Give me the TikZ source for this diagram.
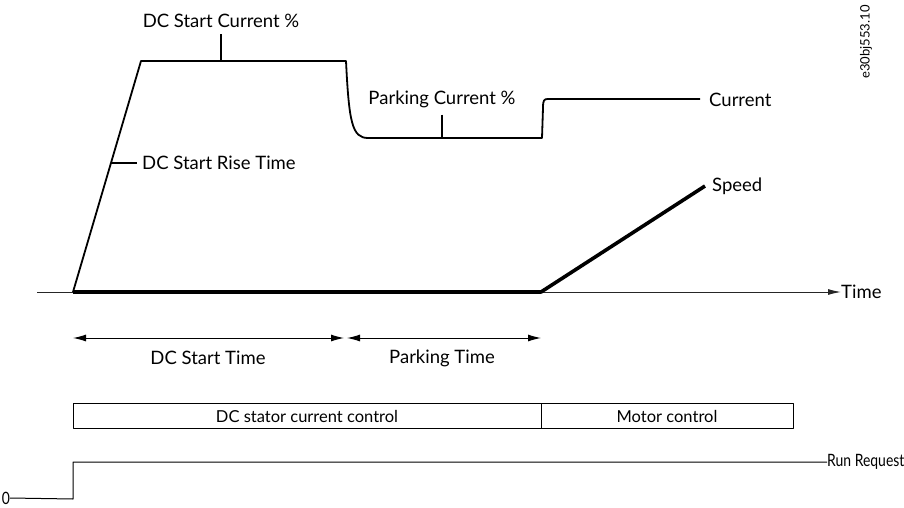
\documentclass[tikz,border=0pt]{standalone}
\usepackage{fontspec}
\setmainfont{Lato}
\usetikzlibrary{arrows.meta,positioning}
\tikzset{
    every picture/.style={line join=round},
    signal/.style={draw=black,line width=1.8pt},
    thicksignal/.style={draw=black,line width=3.6pt},
    axisline/.style={draw=black!85,line width=1pt},
    leader/.style={draw=black,line width=1.2pt},
    dimarrow/.style={{Latex[length=13pt,width=7pt]}-{Latex[length=13pt,width=7pt]},
      draw=black,line width=1pt},
    lbl/.style={font=\fontsize{18.5}{22}\selectfont,inner sep=0pt,text=black},
    narrowlbl/.style={font=\fontsize{17}{20}\selectfont,inner sep=0pt,text=black,xscale=0.82},
    ctrlbox/.style={draw=black,line width=0.9pt,minimum height=25pt,inner sep=0pt,
      font=\fontsize{16.5}{19}\selectfont}
}

\begin{document}
\begin{tikzpicture}[x=1pt,y=-1pt]
  \useasboundingbox (0,0) rectangle (904,508);
  % current curve
  \coordinate (c0) at (73,292);
  \coordinate (c1) at (141,61);
  \coordinate (c2) at (346,61);
  \coordinate (c3) at (368,138);
  \coordinate (c4) at (542,138);
  \coordinate (c5) at (548,99);
  \coordinate (c6) at (700,99);
  \draw[signal] (c0) -- (c1) -- (c2)
    .. controls (349,122) and (352,138) .. (c3) -- (c4)
    -- (543,108) .. controls (543,100) and (544,99) .. (c5) -- (c6);
  \node[lbl,anchor=west] (cur) at (709,100) {Current};
  % time axis and speed
  \coordinate (t0) at (37,292);
  \coordinate (s0) at (541,292);
  \coordinate (s1) at (705,186);
  \node[lbl,anchor=west] (time) at (841,292) {Time};
  \draw[axisline,-{Latex[length=13pt,width=6pt]}] (t0) -- (time.west);
  \draw[thicksignal] (c0) -- (s0) -- (s1);
  \node[lbl,anchor=west] (speed) at (712,186) {Speed};
  % labels with leaders
  \node[lbl,anchor=base] (dcsc) at (221,28) {DC Start Current \%};
  \coordinate (dcscpt) at (221,61);
  \draw[leader] ([yshift=-6pt]dcsc.south) -- (dcscpt);
  \coordinate (risept) at (111,163);
  \node[lbl,anchor=west] (rise) at (142,163) {DC Start Rise Time};
  \draw[leader] (risept) -- ([xshift=-5pt]rise.west);
  \node[lbl,anchor=base] (park) at (442,105) {Parking Current \%};
  \coordinate (parkpt) at (442,138);
  \draw[leader] ([yshift=-6pt]park.south) -- (parkpt);
  % durations
  \coordinate (d0) at (73,338);
  \coordinate (d1) at (344,338);
  \coordinate (d2) at (347,338);
  \coordinate (d3) at (541,338);
  \draw[dimarrow] (d0) -- (d1);
  \draw[dimarrow] (d2) -- (d3);
  \node[lbl] (dcst) at (208,358) {DC Start Time};
  \node[lbl] (parkt) at (442,358) {Parking Time};
  % control modes
  \node[ctrlbox,minimum width=468pt] (dcbox) at (307,416) {DC stator current control};
  \node[ctrlbox,minimum width=252pt] (motbox) at (667,416) {Motor control};
  % run request
  \node[narrowlbl,anchor=east] (zero) at (10,498) {0};
  \coordinate (r0) at (73,499);
  \coordinate (r1) at (73,462);
  \node[narrowlbl,anchor=west] (run) at (827,462) {Run Request};
  \draw[leader,line width=1pt] (zero.east) -- (r0) -- (r1) -- (run.west);
  % drawing number
  \node[lbl,font=\fontsize{13}{15}\selectfont,rotate=90] (docno) at (866,42) {e30bj553.10};
\end{tikzpicture}
\end{document}
